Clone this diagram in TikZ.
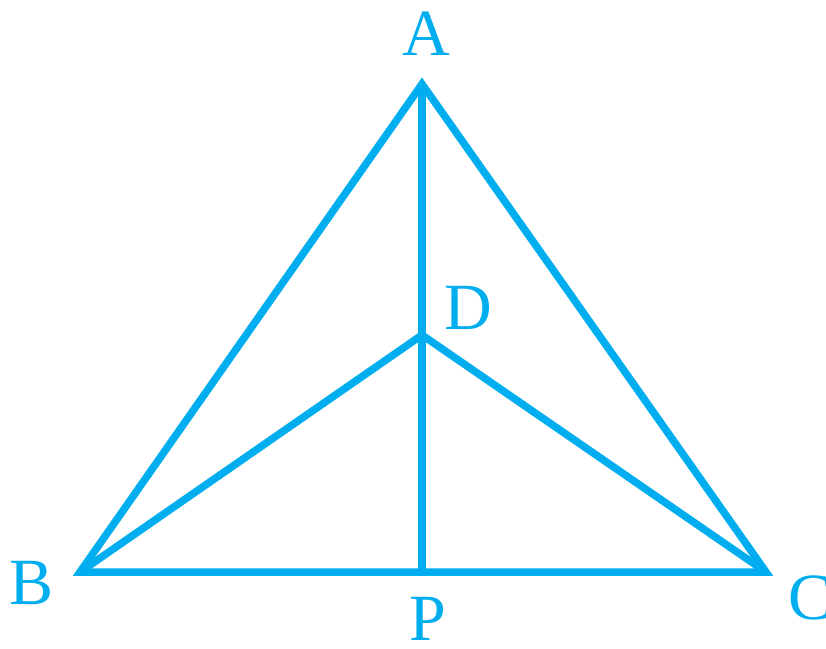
\documentclass[tikz,border=0pt]{standalone}
\usepackage{fontspec}
\setmainfont{Liberation Serif}
\definecolor{geocyan}{HTML}{00AEEF}
\begin{document}
\begin{tikzpicture}[x=1pt,y=-1pt,
  edge/.style={draw=geocyan,line width=7.5pt,line join=miter},
  lbl/.style={text=geocyan,font=\fontsize{66}{66}\selectfont,inner sep=0pt}]
\useasboundingbox (0,0) rectangle (826,648);
\coordinate (A) at (422,84);
\coordinate (B) at (80,572);
\coordinate (C) at (766,572);
\coordinate (D) at (422,335);
\coordinate (P) at (422,572);
\draw[edge] (A) -- (B) -- (C) -- cycle;
\draw[edge] (A) -- (P);
\draw[edge] (B) -- (D) -- (C);
\node[lbl] (la) at (426,34) {A};
\node[lbl] (lb) at (32,583) {B};
\node[lbl] (lc) at (810,598) {C};
\node[lbl] (ld) at (468,308) {D};
\node[lbl] (lp) at (428,619) {P};
\end{tikzpicture}
\end{document}
